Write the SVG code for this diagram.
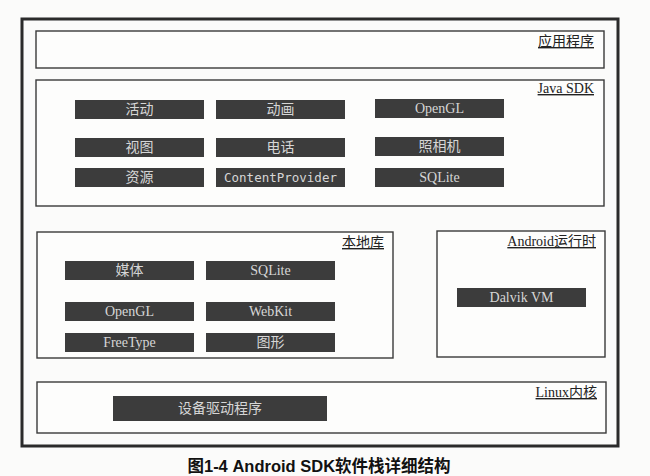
<svg xmlns="http://www.w3.org/2000/svg" width="650" height="476" viewBox="0 0 650 476">
<style>
.bg{fill:#fbfbfa}
.frame{fill:none;stroke:#2b2b2b;stroke-width:3}
.layer{fill:#fdfdfc;stroke:#3a3a3a;stroke-width:1.4}
.lbl{font-family:"Liberation Serif","Noto Sans CJK SC",serif;font-size:14px;fill:#222;text-anchor:end;text-decoration:underline}
.blk{fill:#3c3c3c}
.bt{font-family:"Liberation Serif","Noto Sans CJK SC",serif;font-size:14px;fill:#d6d6d6;text-anchor:middle;dominant-baseline:central}
.mono{font-family:"DejaVu Sans Mono",monospace;font-size:12.5px}
.cap{font-family:"Liberation Sans","Noto Sans CJK SC",sans-serif;font-size:16.5px;font-weight:bold;fill:#111;text-anchor:middle}
</style>
<rect class="bg" x="0" y="0" width="650" height="476"/>
<rect class="frame" x="22" y="19" width="596" height="427"/>

<g id="app">
<rect class="layer" x="36" y="31" width="568" height="37"/>
<text class="lbl" x="594" y="46">应用程序</text>
</g>

<g id="javasdk">
<rect class="layer" x="36" y="80" width="568" height="126"/>
<text class="lbl" x="594" y="93">Java SDK</text>
</g>
<g id="j-activity"><rect class="blk" x="75" y="100" width="129" height="19"/><text class="bt" x="139.5" y="109.5">活动</text></g>
<g id="j-animation"><rect class="blk" x="216" y="100" width="129" height="19"/><text class="bt" x="280.5" y="109.5">动画</text></g>
<g id="j-opengl"><rect class="blk" x="375" y="99" width="129" height="19"/><text class="bt" x="439.5" y="108.5">OpenGL</text></g>
<g id="j-view"><rect class="blk" x="75" y="138" width="129" height="19"/><text class="bt" x="139.5" y="147.5">视图</text></g>
<g id="j-phone"><rect class="blk" x="216" y="138" width="129" height="19"/><text class="bt" x="280.5" y="147.5">电话</text></g>
<g id="j-camera"><rect class="blk" x="375" y="137" width="129" height="19"/><text class="bt" x="439.5" y="146.5">照相机</text></g>
<g id="j-resource"><rect class="blk" x="75" y="168" width="129" height="19"/><text class="bt" x="139.5" y="177.5">资源</text></g>
<g id="j-contentprovider"><rect class="blk" x="216" y="168" width="129" height="19"/><text class="bt mono" x="280.5" y="177.5">ContentProvider</text></g>
<g id="j-sqlite"><rect class="blk" x="375" y="168" width="129" height="19"/><text class="bt" x="439.5" y="177.5">SQLite</text></g>

<g id="native">
<rect class="layer" x="37" y="232" width="356" height="126"/>
<text class="lbl" x="384" y="247">本地库</text>
</g>
<g id="n-media"><rect class="blk" x="65" y="261" width="129" height="19"/><text class="bt" x="129.5" y="270.5">媒体</text></g>
<g id="n-sqlite"><rect class="blk" x="206" y="261" width="129" height="19"/><text class="bt" x="270.5" y="270.5">SQLite</text></g>
<g id="n-opengl"><rect class="blk" x="65" y="302" width="129" height="19"/><text class="bt" x="129.5" y="311.5">OpenGL</text></g>
<g id="n-webkit"><rect class="blk" x="206" y="302" width="129" height="19"/><text class="bt" x="270.5" y="311.5">WebKit</text></g>
<g id="n-freetype"><rect class="blk" x="65" y="333" width="129" height="19"/><text class="bt" x="129.5" y="342.5">FreeType</text></g>
<g id="n-graphics"><rect class="blk" x="206" y="333" width="129" height="19"/><text class="bt" x="270.5" y="342.5">图形</text></g>

<g id="runtime">
<rect class="layer" x="437" y="231" width="168" height="126"/>
<text class="lbl" x="596" y="246">Android运行时</text>
</g>
<g id="r-dalvik"><rect class="blk" x="457" y="288" width="129" height="19"/><text class="bt" x="521.5" y="297.5">Dalvik VM</text></g>

<g id="linux">
<rect class="layer" x="37" y="382" width="569" height="51"/>
<text class="lbl" x="597" y="397">Linux内核</text>
</g>
<g id="l-drivers"><rect class="blk" x="113" y="396" width="214" height="25"/><text class="bt" x="220" y="408.5">设备驱动程序</text></g>

<g id="connectors"/>

<text class="cap" x="319" y="472">图1-4  Android SDK软件栈详细结构</text>
</svg>
